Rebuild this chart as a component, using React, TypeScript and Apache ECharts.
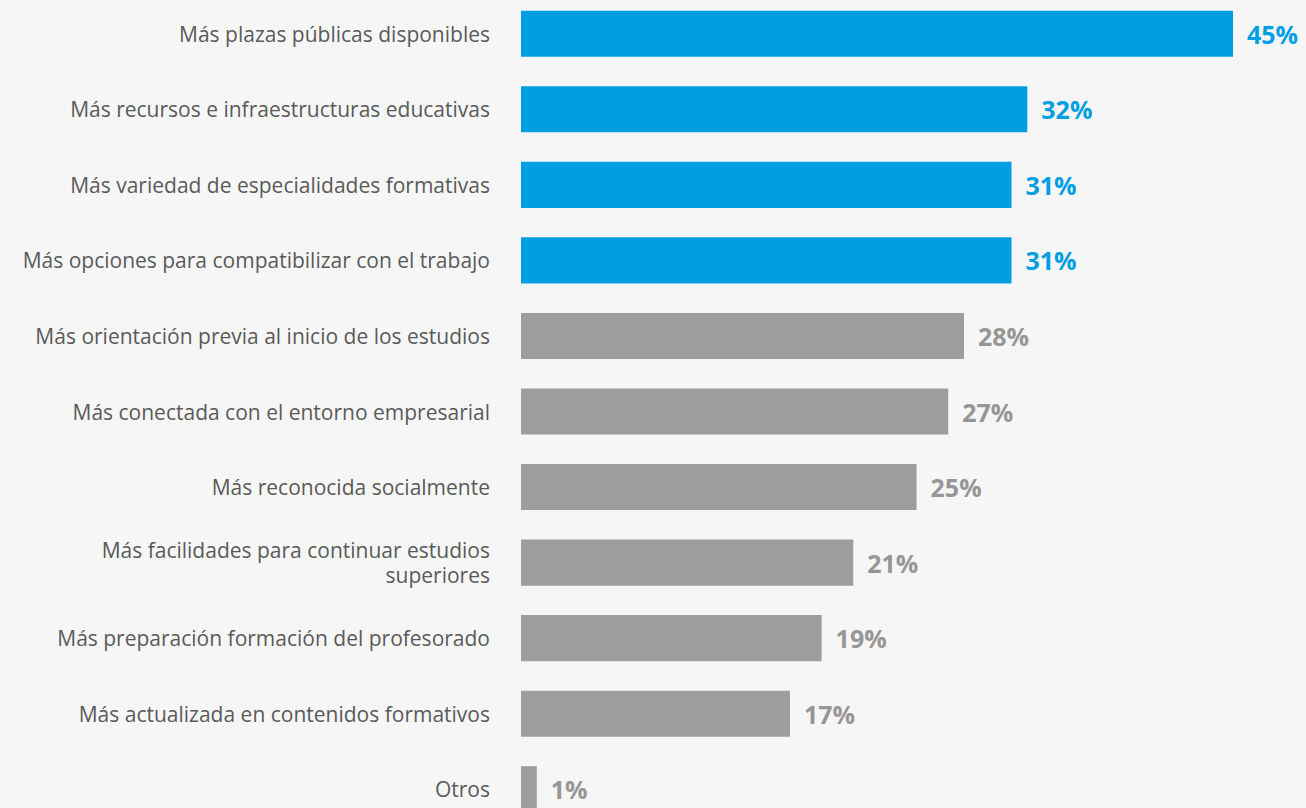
import React, { useEffect, useRef } from "react";
import * as echarts from "echarts";

const categories = [
  "Más plazas públicas disponibles",
  "Más recursos e infraestructuras educativas",
  "Más variedad de especialidades formativas",
  "Más opciones para compatibilizar con el trabajo",
  "Más orientación previa al inicio de los estudios",
  "Más conectada con el entorno empresarial",
  "Más reconocida socialmente",
  "Más facilidades para continuar estudios\nsuperiores",
  "Más preparación formación del profesorado",
  "Más actualizada en contenidos formativos",
  "Otros",
];
const values = [45, 32, 31, 31, 28, 27, 25, 21, 19, 17, 1];
const highlighted = [true, true, true, true, false, false, false, false, false, false, false];

const BLUE = "#009fe3";
const GREY = "#9e9c9c";
const GREY_TEXT = "#979696";

export default function App() {
  const ref = useRef<HTMLDivElement>(null);
  useEffect(() => {
    if (!ref.current) return;
    const chart = echarts.init(ref.current, undefined, { renderer: "svg" });
    chart.setOption({
      animation: false,
      grid: { left: 521, width: 712, top: 0, bottom: 0, containLabel: false },
      xAxis: {
        type: "value",
        min: 0,
        max: 45,
        show: false,
      },
      yAxis: {
        type: "category",
        inverse: true,
        data: categories,
        axisLine: { show: false },
        axisTick: { show: false },
        axisLabel: {
          margin: 31,
          color: "#5a5a5a",
          fontSize: 21,
          fontFamily: "Open Sans",
          lineHeight: 25,
          align: "right",
        },
      },
      series: [
        {
          type: "bar",
          barCategoryGap: "39%",
          data: values.map((v, i) => ({
            value: v,
            itemStyle: { color: highlighted[i] ? BLUE : GREY },
            label: { color: highlighted[i] ? BLUE : GREY_TEXT },
          })),
          label: {
            show: true,
            position: "right",
            distance: 14,
            formatter: "{c}%",
            fontSize: 25,
            fontWeight: "bold",
            fontFamily: "Open Sans",
          },
        },
      ],
    });
    return () => chart.dispose();
  }, []);
  return (
    <div
      style={{
        position: "absolute",
        left: 0,
        top: 0,
        width: 1306,
        height: 808,
        overflow: "hidden",
        background: "#f6f6f6",
      }}
    >
      <div
        ref={ref}
        style={{ position: "absolute", left: 0, top: -4, width: 1306, height: 831 }}
      />
    </div>
  );
}
